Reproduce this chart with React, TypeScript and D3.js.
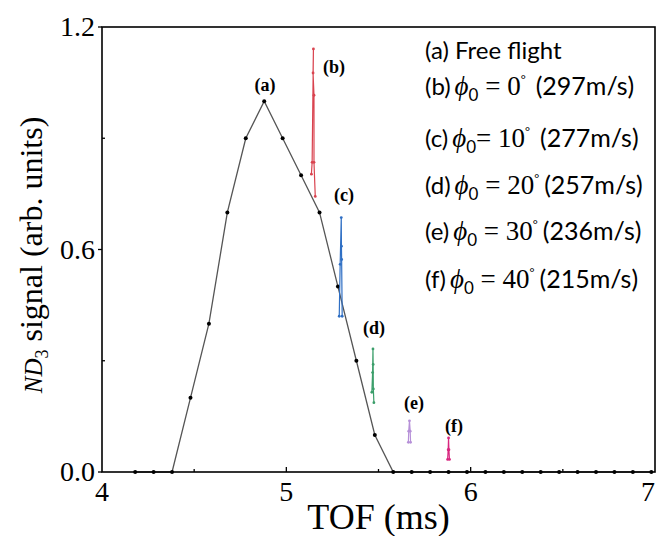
import React, { useRef, useEffect } from "react";
import * as d3 from "d3";

// (a) free flight TOF profile
const freeTof = [4.18, 4.28, 4.38, 4.48, 4.58, 4.68, 4.78, 4.88, 4.98, 5.08, 5.18, 5.28, 5.38, 5.48, 5.58,
    5.68, 5.78, 5.88, 5.98, 6.08, 6.18, 6.28, 6.38, 6.48, 6.58, 6.68, 6.78, 6.88, 6.98];
const freeSignal = [0, 0, 0, 0.2, 0.4, 0.7, 0.9, 1.0, 0.9, 0.8, 0.7, 0.5, 0.3, 0.1, 0,
    0, 0, 0, 0, 0, 0, 0, 0, 0, 0, 0, 0, 0, 0];

// (b)-(f) decelerated packets
const bTof = [5.136, 5.140, 5.147, 5.145, 5.150, 5.150, 5.157];
const bSignal = [0.803, 0.835, 1.141, 1.076, 1.016, 0.835, 0.743];
const cTof = [5.287, 5.292, 5.298, 5.299, 5.300, 5.303];
const cSignal = [0.420, 0.560, 0.686, 0.609, 0.573, 0.420];
const dTof = [5.464, 5.468, 5.470, 5.471, 5.472, 5.475];
const dSignal = [0.215, 0.268, 0.332, 0.290, 0.224, 0.187];
const eTof = [5.662, 5.664, 5.668, 5.672, 5.674];
const eSignal = [0.080, 0.110, 0.138, 0.110, 0.080];
const fTof = [5.875, 5.878, 5.880, 5.882, 5.885];
const fSignal = [0.034, 0.060, 0.092, 0.060, 0.034];

// peak labels, placed in data units
const peakNames = ["(a)", "(b)", "(c)", "(d)", "(e)", "(f)"];
const peakTof = [4.884, 5.259, 5.313, 5.476, 5.693, 5.910];
const peakSignal = [1.027, 1.076, 0.732, 0.373, 0.170, 0.108];

// legend text
const legendIds = ["(b)", "(c)", "(d)", "(e)", "(f)"];
const legendAngles = [0, 10, 20, 30, 40];
const legendSpeeds = [297, 277, 257, 236, 215];

const xTicks = [4, 5, 6, 7];
const yTicks = [0.0, 0.6, 1.2];

const colors = ["#d9434f", "#2f6fc4", "#3b9e6a", "#b690d8", "#d8267f"];

const App = () => {
    const ref = useRef(null);

    useEffect(() => {
        const width = 657;
        const height = 536;
        const margin = { top: 27, right: 2, bottom: 64, left: 102 };

        const svg = d3.select(ref.current)
            .attr("width", width)
            .attr("height", height);
        svg.selectAll("*").remove();

        const x = d3.scaleLinear().domain([4, 7]).range([margin.left, width - margin.right]);
        const y = d3.scaleLinear().domain([0, 1.2]).range([height - margin.bottom, margin.top]);
        const serif = "'Liberation Serif', 'Times New Roman', serif";
        const sans = "Lato, 'Open Sans', sans-serif";

        svg.append("rect").attr("width", width).attr("height", height).attr("fill", "white");

        // inner ticks
        const g = svg.append("g").attr("stroke", "black").attr("stroke-width", 1.3);
        [4.5, 5, 5.5, 6, 6.5].forEach((t) => {
            const len = Number.isInteger(t) ? 5 : 3;
            g.append("line").attr("x1", x(t)).attr("x2", x(t))
                .attr("y1", y(0)).attr("y2", y(0) - len);
        });
        [0.3, 0.9].forEach((t) => {
            g.append("line").attr("x1", x(4)).attr("x2", x(4) + 3)
                .attr("y1", y(t)).attr("y2", y(t));
        });
        yTicks.forEach((t) => {
            g.append("line").attr("x1", x(4) - 4).attr("x2", x(4))
                .attr("y1", y(t)).attr("y2", y(t));
        });

        // free flight curve
        const freePts = freeTof.map((t, i) => [t, freeSignal[i]]);
        const line = d3.line().x((d) => x(d[0])).y((d) => y(d[1]));
        svg.append("path")
            .datum(freePts)
            .attr("d", line)
            .attr("fill", "none")
            .attr("stroke", "#555")
            .attr("stroke-width", 1.3);
        svg.selectAll(".free-dot")
            .data(freePts)
            .join("circle")
            .attr("class", "free-dot")
            .attr("cx", (d) => x(d[0]))
            .attr("cy", (d) => y(d[1]))
            .attr("r", 2)
            .attr("fill", "black");

        // decelerated peaks
        const spikes = [[bTof, bSignal], [cTof, cSignal], [dTof, dSignal], [eTof, eSignal], [fTof, fSignal]];
        spikes.forEach(([ts, ss], k) => {
            const pts = ts.map((t, i) => [t, ss[i]]);
            svg.append("path")
                .datum(pts)
                .attr("d", line)
                .attr("fill", "none")
                .attr("stroke", colors[k])
                .attr("stroke-width", 1.2);
            svg.selectAll(".dot-" + k)
                .data(pts)
                .join("circle")
                .attr("class", "dot-" + k)
                .attr("cx", (d) => x(d[0]))
                .attr("cy", (d) => y(d[1]))
                .attr("r", 1.4)
                .attr("fill", colors[k]);
        });

        // frame
        svg.append("rect")
            .attr("x", x(4)).attr("y", y(1.2))
            .attr("width", x(7) - x(4)).attr("height", y(0) - y(1.2))
            .attr("fill", "none")
            .attr("stroke", "black")
            .attr("stroke-width", 1.6);

        // tick labels
        svg.selectAll(".xlab")
            .data(xTicks)
            .join("text")
            .attr("class", "xlab")
            .attr("x", (d) => Math.min(x(d), width - 9))
            .attr("y", 501)
            .attr("text-anchor", "middle")
            .style("font-family", serif)
            .style("font-size", "28px")
            .text((d) => d);
        svg.selectAll(".ylab")
            .data(yTicks)
            .join("text")
            .attr("class", "ylab")
            .attr("x", 95)
            .attr("y", (d) => y(d) + 9)
            .attr("text-anchor", "end")
            .style("font-family", serif)
            .style("font-size", "28px")
            .text((d) => d.toFixed(1));

        // axis titles
        svg.append("text")
            .attr("x", (x(4) + x(7)) / 2)
            .attr("y", 529)
            .attr("text-anchor", "middle")
            .style("font-family", serif)
            .style("font-size", "36px")
            .text("TOF (ms)");

        const yt = svg.append("text")
            .attr("transform", "translate(42," + 255 + ") rotate(-90)")
            .attr("text-anchor", "middle")
            .style("font-family", serif)
            .style("font-size", "32px");
        yt.append("tspan").style("font-style", "italic").style("font-size", "25px").text("ND");
        yt.append("tspan").style("font-size", "18px").attr("dy", 6).text("3");
        yt.append("tspan").attr("dy", -6).text(" signal (arb. units)");

        // peak labels
        svg.selectAll(".peak")
            .data(peakNames)
            .join("text")
            .attr("class", "peak")
            .attr("x", (d, i) => x(peakTof[i]))
            .attr("y", (d, i) => y(peakSignal[i]))
            .attr("text-anchor", "middle")
            .style("font-family", serif)
            .style("font-weight", "bold")
            .style("font-size", "18px")
            .text((d) => d);

        // legend
        const leg = svg.append("g").style("white-space", "pre");
        leg.append("text")
            .attr("x", 425).attr("y", 59)
            .style("font-family", sans)
            .style("font-size", "24px")
            .text("(a) Free flight");

        const baselines = [95, 147, 194, 240, 288];
        legendIds.forEach((id, i) => {
            const t = leg.append("text")
                .attr("x", 425).attr("y", baselines[i])
                .style("font-family", sans)
                .style("font-size", "24px");
            t.append("tspan").text(id);
            t.append("tspan").attr("dx", 4).style("font-family", serif).style("font-style", "italic")
                .style("font-size", "27px").text("\u03D5");
            t.append("tspan").attr("dy", 6).style("font-size", "17px").text("0");
            t.append("tspan").attr("dy", -6).style("font-family", serif).style("font-size", "27px")
                .text((i === 1 ? "= " : " = ") + legendAngles[i]);
            t.append("tspan").attr("dy", -11).style("font-size", "12px").text("\u00B0");
            t.append("tspan").attr("dy", 11).attr("dx", i < 2 ? 10 : 5).style("font-size", "25px")
                .text("(" + legendSpeeds[i] + "m/s)");
        });
    }, []);

    return (
        <svg ref={ref} style={{ position: "absolute", left: 0, top: 0, display: "block" }} />
    );
};

export default App;
